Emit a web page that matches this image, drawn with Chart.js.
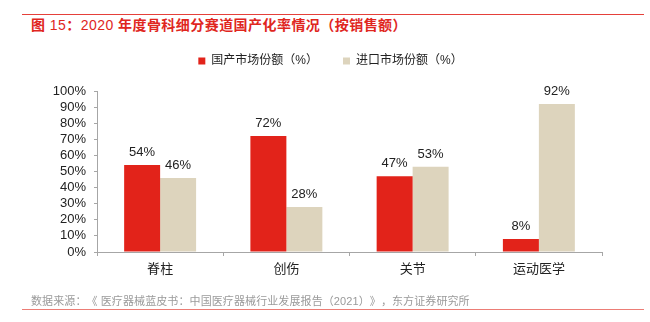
<!DOCTYPE html>
<html lang="zh-CN">
<head>
<meta charset="utf-8">
<script src="https://cdn.jsdelivr.net/npm/chart.js@4/dist/chart.umd.min.js"></script>
<style>
  html, body { margin: 0; padding: 0; background: #fff; }
  body { width: 650px; height: 322px; position: relative; overflow: hidden;
         font-family: 'Liberation Sans', 'Noto Sans CJK SC', sans-serif; }
  #wrap { position: absolute; left: 0; top: 0; width: 650px; height: 322px; }
  .rule { position: absolute; left: 22px; width: 622px; }
  #topRule { top: 14px; height: 1px; background: #e5403a; }
  #bottomRule { top: 309px; height: 1px; background: #ec7d76; }
  #title { position: absolute; left: 31px; top: 16px; font-size: 14px; line-height: 18px;
           letter-spacing: 0.45px; color: #e0261e; font-weight: bold; white-space: nowrap; }
  #title .num { font-weight: normal; }
  #source { position: absolute; left: 31px; top: 294px; font-size: 11px; line-height: 15px;
            letter-spacing: 0.1px; color: #9a9a9a; white-space: nowrap; text-spacing-trim: space-all; }
</style>
</head>
<body>
<div class="rule" id="topRule"></div>
<div id="title">图<span class="num"> 15</span>：<span class="num">2020 </span>年度骨科细分赛道国产化率情况（按销售额）</div>
<div id="wrap"><canvas id="c" width="650" height="322"></canvas></div>
<div id="source">数据来源：《 医疗器械蓝皮书：中国医疗器械行业发展报告（2021）》，东方证券研究所</div>
<div class="rule" id="bottomRule"></div>
<script>
// Orthopaedic sub-segments
const categories = ['脊柱', '创伤', '关节', '运动医学'];
// Market share by sales, percent
const domesticShare = [54, 72, 47, 8];
const importShare = [46, 28, 53, 92];
const seriesNames = ['国产市场份额（%）', '进口市场份额（%）'];
const yTicks = [0, 10, 20, 30, 40, 50, 60, 70, 80, 90, 100];

const FONT = "'Liberation Sans', 'Noto Sans CJK SC', sans-serif";
const RED = '#e2231a';
const BEIGE = '#ddd4bd';
const AXIS = '#a6a6a6';

// Value labels above each bar
const valueLabels = {
  id: 'valueLabels',
  afterDatasetsDraw(chart) {
    const ctx = chart.ctx;
    ctx.save();
    ctx.font = '13px ' + FONT;
    ctx.fillStyle = '#222';
    ctx.textAlign = 'center';
    ctx.textBaseline = 'bottom';
    chart.data.datasets.forEach((ds, i) => {
      chart.getDatasetMeta(i).data.forEach((bar, j) => {
        ctx.fillText(ds.data[j] + '%', bar.x, bar.y - 6);
      });
    });
    ctx.restore();
  }
};

// Compact legend band, nudged right so it sits centred over the page
const legendPlacement = {
  id: 'legendPlacement',
  beforeLayout(chart) {
    const lg = chart.legend;
    if (lg && !lg._fixedFit) {
      const fit = lg.fit.bind(lg);
      lg.fit = function () { fit(); this.height = 61; };
      lg._fixedFit = true;
    }
  },
  afterLayout(chart) {
    const lg = chart.legend;
    if (lg) { lg.left += 23; lg.right += 23; }
  }
};

new Chart(document.getElementById('c'), {
  type: 'bar',
  data: {
    labels: categories,
    datasets: [
      { label: seriesNames[0], data: domesticShare, backgroundColor: RED },
      { label: seriesNames[1], data: importShare, backgroundColor: BEIGE }
    ]
  },
  options: {
    responsive: false,
    animation: false,
    devicePixelRatio: 1,
    layout: { padding: { top: 30, left: 13, right: 48, bottom: 0 } },
    datasets: { bar: { categoryPercentage: 0.57, barPercentage: 1.0 } },
    plugins: {
      legend: {
        position: 'top',
        labels: {
          boxWidth: 7, boxHeight: 7, padding: 25,
          color: '#222', font: { family: FONT, size: 12 }
        }
      },
      tooltip: { enabled: false }
    },
    scales: {
      x: {
        grid: { display: true, drawOnChartArea: false, drawTicks: true, tickLength: 4, color: AXIS, offset: true },
        border: { display: true, color: AXIS },
        ticks: { color: '#222', font: { family: FONT, size: 13 }, padding: 6 },
        afterFit(scale) { scale.height = 70; }
      },
      y: {
        min: 0, max: 100,
        afterBuildTicks(scale) { scale.ticks = yTicks.map(v => ({ value: v })); },
        grid: { display: true, drawOnChartArea: false, drawTicks: true, tickLength: 3, color: AXIS },
        border: { display: true, color: AXIS },
        ticks: { color: '#222', font: { family: FONT, size: 13 }, padding: 8,
                 autoSkip: false, callback: v => v + '%' },
        afterFit(scale) { scale.width = 84; }
      }
    }
  },
  plugins: [valueLabels, legendPlacement]
});
</script>
</body>
</html>
